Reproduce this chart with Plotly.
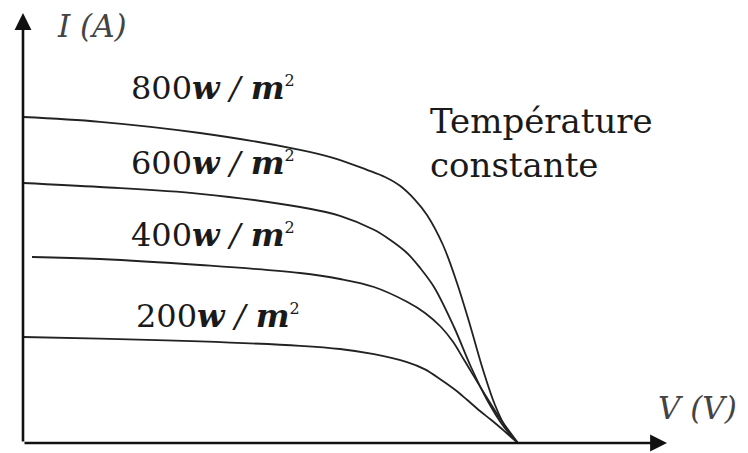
import plotly.graph_objects as go

# Schematic I-V curves (arbitrary units)
v_800 = [0, 3.85, 8.85, 13.85, 15.5, 17.2, 18.1, 18.85, 19.6, 20.2, 21.0, 21.7, 22.35, 23.0, 23.6, 24.2, 24.75]
i_800 = [8.15, 8.03, 7.75, 7.33, 7.13, 6.83, 6.65, 6.43, 6.08, 5.7, 4.95, 4.0, 2.95, 1.83, 0.95, 0.33, 0]

v_600 = [0, 3.85, 8.85, 13.85, 15.85, 17.55, 18.35, 19.2, 19.85, 20.55, 21.55, 22.4, 23.2, 24.05, 24.75]
i_600 = [6.5, 6.4, 6.23, 5.9, 5.68, 5.33, 5.08, 4.75, 4.38, 3.9, 2.9, 1.9, 1.08, 0.4, 0]

v_400 = [0.45, 3.85, 8.85, 13.85, 15.85, 17.55, 19.2, 20.1, 20.9, 21.5, 22.05, 23.05, 23.9, 24.75]
i_400 = [4.65, 4.6, 4.45, 4.25, 4.1, 3.9, 3.53, 3.25, 2.9, 2.53, 2.08, 1.25, 0.58, 0]

v_200 = [0, 3.85, 8.85, 13.85, 15.85, 17.55, 19.2, 20.1, 20.9, 21.6, 22.2, 22.85, 23.4, 23.95, 24.4, 24.75]
i_200 = [2.65, 2.61, 2.54, 2.43, 2.35, 2.22, 2.02, 1.84, 1.58, 1.33, 1.08, 0.8, 0.58, 0.35, 0.15, 0]

irradiance_labels = ["800", "600", "400", "200"]
title_lines = ["Température", "constante"]
x_label = "V (V)"
y_label = "I (A)"

X_MAX = 32.2
Y_MAX = 10.75
LINE_COLOR = "#222222"

fig = go.Figure()
for v, i in [(v_800, i_800), (v_600, i_600), (v_400, i_400), (v_200, i_200)]:
    fig.add_trace(go.Scatter(
        x=v, y=i, mode="lines",
        line=dict(color=LINE_COLOR, width=1.8, shape="spline", smoothing=1.0),
        showlegend=False, hoverinfo="skip",
    ))

annotations = []
# axes with arrows
annotations.append(dict(x=X_MAX, y=0, ax=0, ay=0, xref="x", yref="y", axref="x", ayref="y",
                        showarrow=True, arrowhead=2, arrowsize=1.3, arrowwidth=2.6,
                        arrowcolor="#111111", text=""))
annotations.append(dict(x=0, y=Y_MAX, ax=0, ay=0, xref="x", yref="y", axref="x", ayref="y",
                        showarrow=True, arrowhead=2, arrowsize=1.3, arrowwidth=2.6,
                        arrowcolor="#111111", text=""))

serif = "DejaVu Serif"
label_pos = [(9.5, 8.875), (9.5, 7.0), (9.5, 5.2), (9.75, 3.18)]
for lab, (lx, ly) in zip(irradiance_labels, label_pos):
    annotations.append(dict(
        x=lx, y=ly, xref="x", yref="y", showarrow=False,
        xanchor="center", yanchor="middle",
        text=(f"{lab}<i><b>w</b> / <b>m</b></i>"
              f"<sup><span style='font-size:16px'>2</span></sup>"),
        font=dict(family=serif, size=32, color="#1a1a1a"),
    ))

annotations.append(dict(x=20.25, y=7.5, xref="x", yref="y", showarrow=False,
                        xanchor="left", yanchor="middle", align="left",
                        text="<br>".join(title_lines),
                        font=dict(family=serif, size=34, color="#1a1a1a")))

annotations.append(dict(x=3.45, y=10.43, xref="x", yref="y", showarrow=False,
                        xanchor="center", yanchor="middle", text=f"<i>{y_label}</i>",
                        font=dict(family=serif, size=31, color="#444444")))
annotations.append(dict(x=1.0466, y=0.0814, xref="paper", yref="paper", showarrow=False,
                        xanchor="center", yanchor="middle", text=f"<i>{x_label}</i>",
                        font=dict(family=serif, size=31, color="#444444")))

fig.update_layout(
    width=748, height=453,
    margin=dict(l=23, r=81, t=13, b=10),
    paper_bgcolor="white", plot_bgcolor="white",
    xaxis=dict(range=[0, X_MAX], visible=False, fixedrange=True),
    yaxis=dict(range=[0, Y_MAX], visible=False, fixedrange=True),
    annotations=annotations,
)

fig.write_html("out.html")
